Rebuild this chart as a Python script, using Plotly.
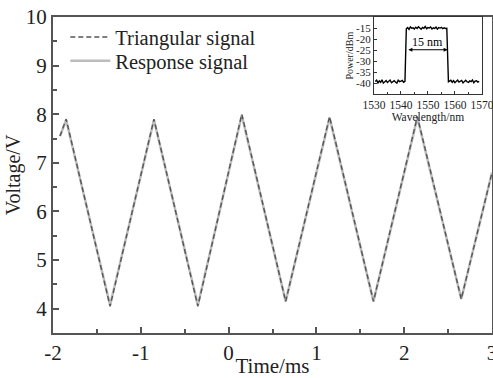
import plotly.graph_objects as go

# Main chart data (time in ms, voltage in V) - vertices of the triangular waveform
t_vals = [-1.92, -1.85, -1.35, -0.85, -0.35, 0.15, 0.65, 1.15, 1.65, 2.15, 2.65, 3.0]
v_tri = [7.55, 7.9, 4.05, 7.9, 4.05, 8.0, 4.15, 7.95, 4.15, 7.95, 4.2, 6.8]
v_resp = [7.55, 7.88, 4.07, 7.88, 4.07, 7.98, 4.15, 7.93, 4.15, 7.93, 4.2, 6.8]

x_ticks = [-2, -1, 0, 1, 2, 3]
x_ticktext = ["-2", "-1", "0", "1", "2", "3"]
y_ticks = [4, 5, 6, 7, 8, 9, 10]

# Inset spectrum data (wavelength nm, power dBm)
wl_left = [1530.5, 1531, 1531.5, 1532, 1532.5, 1533, 1533.5, 1534, 1534.5, 1535, 1535.5, 1536,
           1536.5, 1537, 1537.5, 1538, 1538.5, 1539, 1539.5, 1540, 1540.5, 1541, 1541.5]
p_left = [-39.2, -38.6, -39.8, -38.9, -39.5, -38.4, -39.9, -39.1, -38.7, -39.6, -39.0, -38.5,
          -39.7, -39.3, -38.8, -39.4, -39.9, -38.6, -39.2, -39.0, -38.7, -39.5, -39.1]
wl_mid = [1542, 1542.5, 1543, 1543.5, 1544, 1544.5, 1545, 1545.5, 1546, 1546.5, 1547, 1547.5, 1548,
          1548.5, 1549, 1549.5, 1550, 1550.5, 1551, 1551.5, 1552, 1552.5, 1553, 1553.5, 1554,
          1554.5, 1555, 1555.5, 1556, 1556.5, 1557]
p_mid = [-15.3, -14.8, -15.6, -14.5, -15.1, -14.9, -15.4, -14.6, -15.2, -14.4, -15.0, -15.5,
         -14.7, -15.1, -14.3, -15.3, -14.8, -15.0, -14.5, -15.4, -14.9, -15.2, -14.6, -15.5,
         -14.8, -15.0, -14.7, -15.3, -14.9, -15.2, -15.1]
wl_right = [1557.6, 1558, 1558.5, 1559, 1559.5, 1560, 1560.5, 1561, 1561.5, 1562, 1562.5, 1563, 1563.5,
            1564, 1564.5, 1565, 1565.5, 1566, 1566.5, 1567, 1567.5, 1568, 1568.5, 1569]
p_right = [-39.3, -39.0, -38.6, -39.5, -38.8, -39.7, -39.2, -38.5, -39.4, -39.0, -38.7, -39.8, -39.1,
           -38.6, -39.3, -39.6, -38.9, -39.2, -38.5, -39.7, -39.0, -38.8, -39.4, -39.1]

inset_x_ticks = [1530, 1540, 1550, 1560, 1570]
inset_y_ticks = [-15, -20, -25, -30, -35, -40]
inset_y_ticktext = ["-15", "-20", "-25", "-30", "-35", "-40"]

font_family = "Liberation Serif, Times New Roman, serif"
axis_col = "#555555"

fig = go.Figure()
fig.add_trace(go.Scatter(x=t_vals, y=v_resp, mode="lines", name="Response signal",
                         line=dict(color="#bcbcbc", width=2.5), legend="legend2"))
fig.add_trace(go.Scatter(x=t_vals, y=v_tri, mode="lines", name="Triangular signal",
                         line=dict(color="#555555", width=1.4, dash="5px,3px"), legend="legend"))

wl_all = wl_left + wl_mid + wl_right
p_all = p_left + p_mid + p_right
fig.add_trace(go.Scatter(x=wl_all, y=p_all, mode="lines", xaxis="x2", yaxis="y2",
                         line=dict(color="black", width=1.4), showlegend=False))

common_axis = dict(showline=True, linecolor=axis_col, linewidth=2, mirror=True,
                   ticks="inside", tickcolor=axis_col, tickwidth=1.5, showgrid=False,
                   zeroline=False, automargin=False, ticklabeloverflow="allow")

legend_common = dict(xanchor="left", yanchor="middle", bgcolor="rgba(0,0,0,0)",
                     font=dict(size=20.5, family=font_family, color="#222"), itemwidth=40)

fig.update_layout(
    width=493, height=378,
    margin=dict(l=53, r=1, t=17, b=45),
    paper_bgcolor="white", plot_bgcolor="white",
    font=dict(family=font_family, color="#222"),
    xaxis=dict(range=[-2, 3], tickvals=x_ticks, ticktext=x_ticktext, ticklen=6,
               tickfont=dict(size=21, family=font_family),
               minor=dict(dtick=0.5, ticklen=4, ticks="inside", tickcolor=axis_col),
               title=dict(text="Time/ms", font=dict(size=21), standoff=0),
               **common_axis),
    yaxis=dict(range=[3.5, 10], tickvals=y_ticks, ticklen=6,
               tickfont=dict(size=21, family=font_family),
               minor=dict(dtick=0.5, ticklen=4, ticks="inside", tickcolor=axis_col),
               title=dict(text="Voltage/V", font=dict(size=20), standoff=0),
               **common_axis),
    xaxis2=dict(domain=[0.731, 0.977], anchor="y2", range=[1530, 1570],
                tickvals=inset_x_ticks, ticklen=3, tickangle=0, ticklabeloverflow="allow",
                tickfont=dict(size=11.5, family=font_family),
                minor=dict(dtick=5, ticklen=2, ticks="inside", tickcolor="#333"),
                title=dict(text="Wavelength/nm", font=dict(size=11.5), standoff=0),
                showline=True, linecolor="#333", linewidth=1, mirror=True, automargin=False,
                ticks="inside", tickcolor="#333", showgrid=False, zeroline=False),
    yaxis2=dict(domain=[0.755, 1.0], anchor="x2", range=[-45, -10],
                tickvals=inset_y_ticks, ticktext=inset_y_ticktext, ticklen=3,
                ticklabeloverflow="allow",
                tickfont=dict(size=11, family=font_family),
                title=dict(text="Power/dBm", font=dict(size=10), standoff=0),
                showline=True, linecolor="#333", linewidth=1, mirror=True, automargin=False,
                ticks="inside", tickcolor="#333", showgrid=False, zeroline=False),
    legend=dict(x=0.028, y=0.936, **legend_common),
    legend2=dict(x=0.028, y=0.861, **legend_common),
)

fig.add_annotation(x=1557.3, y=-24.8, ax=1542.2, ay=-24.8, xref="x2", yref="y2",
                   axref="x2", ayref="y2", showarrow=True, arrowhead=2, arrowside="end+start",
                   arrowsize=0.8, arrowwidth=1, arrowcolor="black", text="")
fig.add_annotation(x=1549.8, y=-24.8, xref="x2", yref="y2", text="15 nm", showarrow=False,
                   yshift=8, font=dict(size=12, family=font_family, color="black"))

fig.write_html("out.html")
